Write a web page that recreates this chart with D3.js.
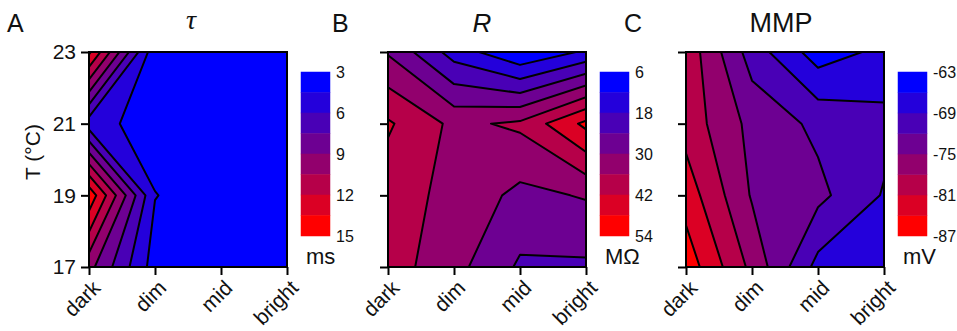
<!DOCTYPE html>
<html>
<head>
<meta charset="utf-8">
<script src="https://cdn.jsdelivr.net/npm/d3@7"></script>
<style>
  body { margin: 0; background: #fff; }
  text { font-family: Arial, "Liberation Sans", sans-serif; fill: #111; }
</style>
</head>
<body>
<svg id="chart" width="957" height="331"></svg>
<script>
const lightLevels = ["dark", "dim", "mid", "bright"];
const temps = [17, 19, 21, 23];

// rows: 17, 19, 21, 23 °C ; columns: dark, dim, mid, bright
const tauValues = [
  [9.5, 3.8, 3.5, 3.4],
  [14.6, 4.55, 3.6, 3.5],
  [5.2, 3.7, 3.5, 3.4],
  [13.8, 3.4, 3.3, 3.2]
];
const resValues = [
  [38.8, 32, 23.1, 23],
  [38.7, 34.3, 28.4, 30.5],
  [42.8, 34.6, 37.1, 49.5],
  [29.4, 15.4, 6.5, 13]
];
const mmpValues = [
  [-85.8, -77.2, -68, -67.5],
  [-82.7, -74.7, -72.8, -68.75],
  [-79.8, -74.1, -71.3, -69.95],
  [-80, -70.6, -64.5, -66.75]
];

const tauTicks = [3, 6, 9, 12, 15];
const resTicks = [6, 18, 30, 42, 54];
const mmpTicks = [-63, -69, -75, -81, -87];

const nBands = 8;
const bandColors = d3.quantize(d3.interpolateRgb("#0000ff", "#ff0000"), nBands);

const svg = d3.select("#chart");

const plotW = 198, plotH = 215, plotTop = 52;
const barTop = 72, barBottom = 236, barW = 29;

const panels = [
  { letter: "A", letterX: 7, title: "τ", titleX: 191, serif: true, unit: "ms",
    values: tauValues, ticks: tauTicks, left: 89, yLabels: true },
  { letter: "B", letterX: 332, title: "R", titleX: 482, serif: false, italic: true, unit: "MΩ",
    values: resValues, ticks: resTicks, left: 388, yLabels: false },
  { letter: "C", letterX: 624, title: "MMP", titleX: 781, serif: false, unit: "mV",
    values: mmpValues, ticks: mmpTicks, left: 686, yLabels: false }
];

panels.forEach((p, pi) => {
  const g = svg.append("g").attr("transform", `translate(${p.left},${plotTop})`);

  const xIdx = d3.scaleLinear().domain([0, lightLevels.length - 1]).range([0, plotW]);
  const yIdx = d3.scaleLinear().domain([0, temps.length - 1]).range([plotH, 0]);
  const x = d3.scalePoint().domain(lightLevels).range([0, plotW]);
  const y = d3.scaleLinear().domain(d3.extent(temps)).range([plotH, 0]);

  const lo = d3.min(p.ticks), hi = d3.max(p.ticks);
  const step = (hi - lo) / nBands;
  const levels = d3.range(nBands).map(i => lo + i * step);
  const color = d3.scaleQuantize().domain([lo, hi])
    .range(p.ticks[0] < p.ticks[p.ticks.length - 1] ? bandColors : bandColors.slice().reverse());

  const flat = p.values.flat();
  const contours = d3.contours().size([lightLevels.length, temps.length]).thresholds(levels)(flat);

  const proj = d3.geoTransform({
    point: function (px, py) { this.stream.point(xIdx(px - 0.5), yIdx(py - 0.5)); }
  });
  const path = d3.geoPath(proj);

  const clipId = "clip" + pi;
  g.append("clipPath").attr("id", clipId)
    .append("rect").attr("width", plotW).attr("height", plotH);

  const cg = g.append("g").attr("clip-path", `url(#${clipId})`);
  cg.selectAll("path.fill")
    .data(contours)
    .enter()
    .append("path")
    .attr("class", "fill")
    .attr("d", path)
    .attr("fill", d => color(d.value + step / 2))
    .attr("stroke", d => color(d.value + step / 2))
    .attr("stroke-width", 0.5);
  cg.selectAll("path.line")
    .data(contours.slice(1))
    .enter()
    .append("path")
    .attr("class", "line")
    .attr("d", path)
    .attr("fill", "none")
    .attr("stroke", "#000")
    .attr("stroke-width", 2)
    .attr("stroke-linejoin", "round");

  g.append("rect")
    .attr("width", plotW).attr("height", plotH)
    .attr("fill", "none").attr("stroke", "#000").attr("stroke-width", 2);

  // axes
  const yAxis = g.append("g")
    .call(d3.axisLeft(y).tickValues(temps).tickSize(8).tickPadding(5)
      .tickFormat(p.yLabels ? d3.format("d") : ""));
  yAxis.select(".domain").remove();
  yAxis.selectAll("line").attr("stroke", "#000").attr("stroke-width", 2);
  yAxis.selectAll("text").style("font-size", "21px").attr("fill", "#111");

  const xAxis = g.append("g").attr("transform", `translate(0,${plotH})`)
    .call(d3.axisBottom(x).tickSize(8));
  xAxis.select(".domain").remove();
  xAxis.selectAll("line").attr("stroke", "#000").attr("stroke-width", 2);
  xAxis.selectAll("text")
    .attr("x", 0).attr("y", 0).attr("dy", "0.35em")
    .attr("transform", "translate(7,17) rotate(-45)")
    .style("text-anchor", "end")
    .style("font-size", "21px")
    .attr("fill", "#111");

  // panel letter and title
  svg.append("text").attr("x", p.letterX).attr("y", 32)
    .style("font-size", "25px").text(p.letter);
  svg.append("text").attr("x", p.titleX).attr("y", p.serif ? 29 : 32)
    .attr("text-anchor", "middle")
    .style("font-family", p.serif ? "'Liberation Serif', 'DejaVu Serif', serif" : null)
    .style("font-style", p.serif || p.italic ? "italic" : "normal")
    .style("font-size", p.serif ? "28px" : (p.italic ? "26px" : "27px"))
    .text(p.title);

  // colour bar
  const barX = p.left + plotW + 14;
  const yBar = d3.scaleLinear().domain([p.ticks[0], p.ticks[p.ticks.length - 1]]).range([barTop, barBottom]);
  const bar = svg.append("g").attr("transform", `translate(${barX},0)`);
  bar.selectAll("rect")
    .data(levels)
    .enter()
    .append("rect")
    .attr("x", 0)
    .attr("y", d => Math.min(yBar(d), yBar(d + step)))
    .attr("width", barW)
    .attr("height", d => Math.abs(yBar(d + step) - yBar(d)))
    .attr("fill", d => color(d + step / 2))
    .attr("stroke", d => color(d + step / 2))
    .attr("stroke-width", 0.5);
  bar.selectAll("text.tick")
    .data(p.ticks)
    .enter()
    .append("text")
    .attr("class", "tick")
    .attr("x", barW + 6)
    .attr("y", d => yBar(d))
    .attr("dy", "0.35em")
    .style("font-size", "16px")
    .text(d => d);
  bar.append("text")
    .attr("x", 5).attr("y", 264)
    .style("font-size", "22px")
    .text(p.unit);
});

svg.append("text")
  .attr("transform", "translate(40,152) rotate(-90)")
  .attr("text-anchor", "middle")
  .style("font-size", "21px")
  .text("T (°C)");
</script>
</body>
</html>
